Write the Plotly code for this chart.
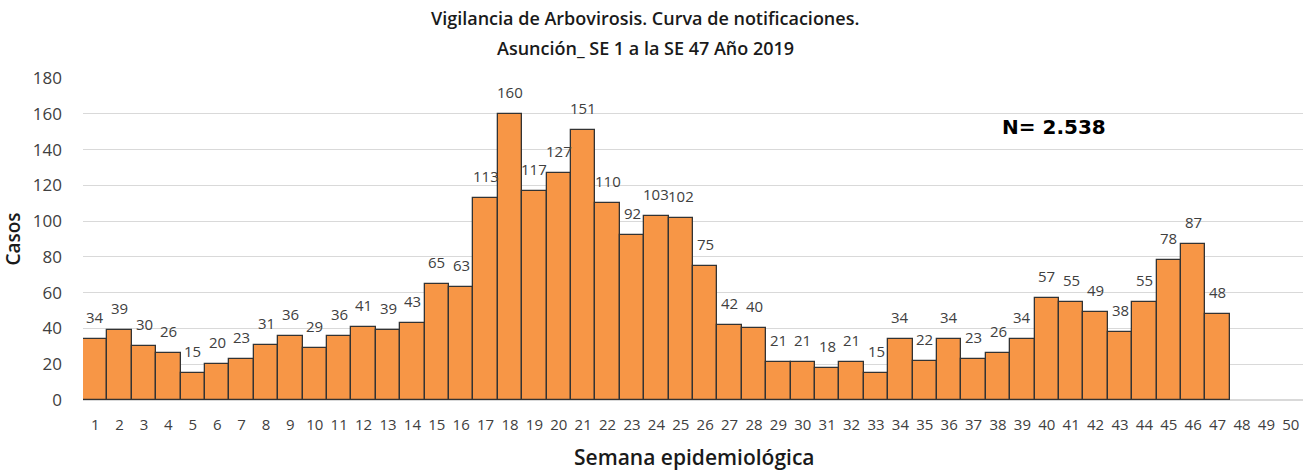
import plotly.graph_objects as go

weeks = list(range(1, 51))
cases = [34, 39, 30, 26, 15, 20, 23, 31, 36, 29, 36, 41, 39, 43, 65, 63, 113, 160, 117, 127,
         151, 110, 92, 103, 102, 75, 42, 40, 21, 21, 18, 21, 15, 34, 22, 34, 23, 26, 34, 57,
         55, 49, 38, 55, 78, 87, 48]
y_ticks = [0, 20, 40, 60, 80, 100, 120, 140, 160, 180]

fig = go.Figure()
fig.add_trace(go.Bar(
    x=weeks[:len(cases)], y=cases,
    marker=dict(color="#F79646", line=dict(color="#333333", width=1.3)),
    width=1.0,
))

label_font = dict(family="Open Sans", size=15, color="#404040")
annotations = []
for w, v in zip(weeks, cases):
    annotations.append(dict(x=w, y=v, xref="x", yref="y", text=str(v), showarrow=False,
                            xanchor="center", yanchor="bottom", yshift=10, font=label_font))

title_font = dict(family="Open Sans", size=18, color="#1a1a1a", weight=600)
annotations.append(dict(text="Vigilancia de Arbovirosis. Curva de notificaciones.", x=0.4607, y=1.186,
                        xref="paper", yref="paper", xanchor="center", yanchor="middle",
                        showarrow=False, font=title_font))
annotations.append(dict(text="Asunción_ SE 1 a la SE 47 Año 2019", x=0.4607, y=1.093,
                        xref="paper", yref="paper", xanchor="center", yanchor="middle",
                        showarrow=False, font=title_font))
annotations.append(dict(text="Semana epidemiológica", x=0.501, y=-0.176,
                        xref="paper", yref="paper", xanchor="center", yanchor="middle",
                        showarrow=False,
                        font=dict(family="Open Sans", size=21, color="#1a1a1a", weight=600)))
annotations.append(dict(text="<b>N= 2.538</b>", x=0.796, y=0.848, xref="paper", yref="paper",
                        xanchor="center", yanchor="middle", showarrow=False,
                        font=dict(family="DejaVu Sans", size=20, color="black")))

fig.update_layout(
    width=1303, height=472,
    margin=dict(l=83, r=0, t=78, b=72, autoexpand=False),
    paper_bgcolor="white", plot_bgcolor="white",
    showlegend=False, bargap=0,
    xaxis=dict(tickmode="array", tickvals=weeks, ticktext=[str(w) for w in weeks],
               range=[0.5, 50.5], showgrid=False, zeroline=False, showline=False,
               ticks="", automargin=False, ticklabelstandoff=14,
               tickfont=dict(family="Open Sans", size=15, color="#404040")),
    yaxis=dict(tickmode="array", tickvals=y_ticks, range=[0, 180],
               showgrid=True, gridcolor="#d9d9d9", gridwidth=1, zeroline=True,
               zerolinecolor="#d9d9d9", ticks="", ticklabelstandoff=20, automargin=False,
               tickfont=dict(family="Open Sans", size=17, color="#404040"),
               title=dict(text="Casos", standoff=8,
                          font=dict(family="Open Sans", size=19, color="#1a1a1a", weight=600))),
    annotations=annotations,
)

fig.write_html("out.html", config={"displayModeBar": False},
               post_script="document.body.style.margin='0';")
